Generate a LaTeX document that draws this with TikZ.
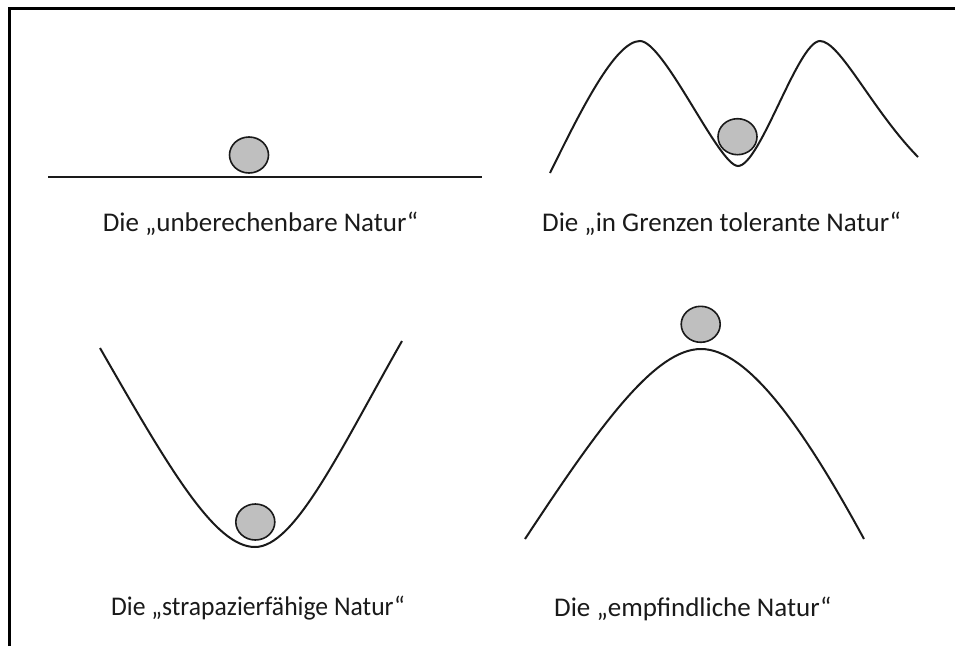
\documentclass[tikz,border=0pt]{standalone}
\usepackage{fontspec}
\setmainfont{Carlito}
\usepackage{tikz}
\usetikzlibrary{shapes.geometric}
\definecolor{ballgray}{HTML}{BFBFBF}
\definecolor{ink}{HTML}{1A1A1A}
\tikzset{
  frame/.style={draw=black, line width=2.7pt},
  curve/.style={draw=ink, line width=2pt},
  ball/.style={ellipse, draw=ink, fill=ballgray, line width=1.6pt, minimum width=39pt, minimum height=36pt, inner sep=0pt},
  lbl/.style={inner sep=0pt, font=\fontsize{27}{32}\selectfont, text=ink}
}
\begin{document}
\begin{tikzpicture}[x=1pt, y=-1pt]
\useasboundingbox (0,0) rectangle (955,646);
\draw[frame] (9.7,646) |- (955,8.7);

% unberechenbar
\draw[curve] (48,176.5) -- (482,176.5);
\node[ball] (b1) at (249,155) {};
\node[lbl, anchor=base] (t1) at (260.5,231) {Die „unberechenbare Natur“};

% in Grenzen tolerant
\draw[curve] (550,173) .. controls (580,112) and (615,41) .. (640,41)
  .. controls (664,41) and (719,166) .. (738,166)
  .. controls (760,166) and (798,41) .. (820,41)
  .. controls (840,41) and (872,110) .. (918,157);
\node[ball] (b2) at (737.5,136.7) {};
\node[lbl, anchor=base] (t2) at (721.5,231) {Die „in Grenzen tolerante Natur“};

% strapazierfaehig
\draw[curve] (100,348) .. controls (170,470) and (215,547) .. (255,547)
  .. controls (295,547) and (340,450) .. (402,341);
\node[ball] (b3) at (255.3,522) {};
\node[lbl, anchor=base west, xscale=0.95] (t3) at (111,615) {Die „strapazierfähige Natur“};

% empfindlich
\draw[curve] (525,539) .. controls (600,425) and (655,349) .. (701,349)
  .. controls (747,349) and (802,425) .. (864,539);
\node[ball] (b4) at (700.7,324.3) {};
\node[lbl, anchor=base west] (t4) at (554,616) {Die „empfindliche Natur“};
\end{tikzpicture}
\end{document}
